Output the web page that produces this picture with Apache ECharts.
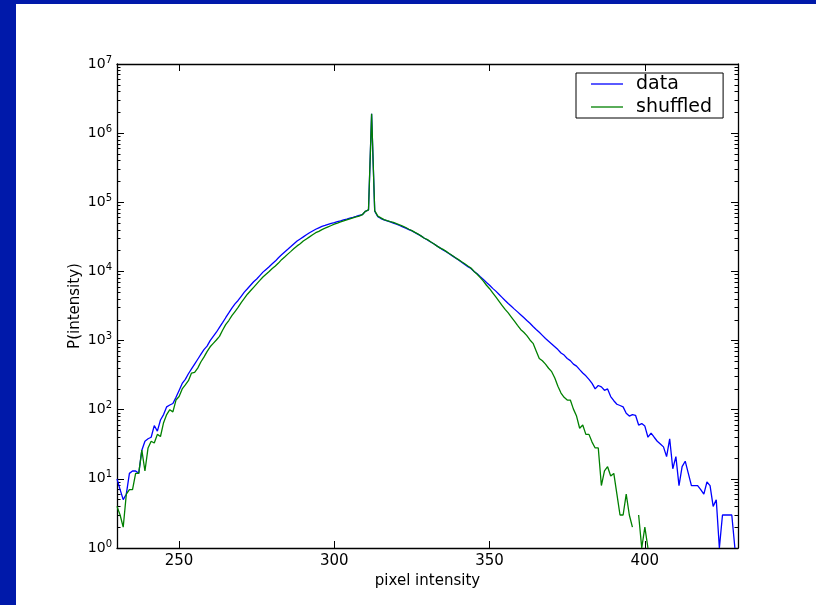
<!DOCTYPE html>
<html>
<head>
<meta charset="utf-8">
<title>pixel intensity histogram</title>
<script src="https://cdn.jsdelivr.net/npm/echarts@6/dist/echarts.min.js"></script>
<style>
  html, body { margin: 0; padding: 0; background: #fff; }
  #chart { width: 816px; height: 605px; }
</style>
</head>
<body>
<div id="chart"></div>
<script>
// histogram bins: one count per integer intensity, starting at firstBin
const firstBin = 230;

// "data" (blue), bins 230..429
const dataCounts = [
  10, 7, 5, 6, 12, 13, 13, 12, 26, 35,
  38, 40, 59, 49, 71, 85, 110, 117, 123, 151,
  190, 240, 275, 331, 389, 457, 537, 631, 741, 832,
  1000, 1150, 1320, 1550, 1820, 2140, 2510, 2950, 3390, 3800,
  4370, 5010, 5620, 6310, 7080, 7760, 8710, 9770, 10700, 11700,
  12900, 14100, 15800, 17400, 19100, 20900, 22900, 25100, 27500, 29500,
  31600, 33900, 36300, 38500, 40700, 42700, 44700, 46200, 47900, 49500,
  50700, 52500, 53700, 55600, 56900, 58900, 60300, 62400, 64600, 66100,
  74100, 77600, 1900000, 74100, 61700, 58200, 55600, 53700, 51900, 50100,
  48400, 46200, 44200, 42200, 40300, 38500, 36300, 34300, 32400, 30200,
  28500, 26600, 25100, 23400, 21900, 20400, 19300, 18000, 16800, 15700,
  14600, 13600, 12600, 11700, 11000, 10000, 9230, 8410, 7670, 6920,
  6310, 5690, 5190, 4680, 4220, 3800, 3430, 3130, 2850, 2600,
  2370, 2160, 1950, 1780, 1600, 1450, 1320, 1190, 1070, 977,
  891, 813, 741, 661, 617, 550, 513, 457, 427, 380,
  339, 309, 275, 240, 200, 224, 214, 191, 200, 155,
  135, 120, 115, 110, 89, 81, 85, 83, 60, 63,
  58, 40, 46, 40, 35, 32, 29, 21, 38, 14,
  21, 8, 15, 18, 12, 8, 8, 8, 7, 6,
  9, 8, 4, 5, 1, 3, 3, 3, 3, 1
];

// "shuffled" (green), bins 230..401; null = empty bin (not drawn on log axis)
const shuffledCounts = [
  4, 3, 2, 6, 7, 7, 12, 12, 26, 13,
  28, 35, 33, 44, 41, 65, 85, 100, 93, 138,
  155, 200, 229, 263, 339, 347, 400, 490, 575, 692,
  813, 912, 1020, 1150, 1410, 1700, 1950, 2290, 2630, 3020,
  3550, 4070, 4680, 5250, 5890, 6610, 7410, 8320, 9120, 10000,
  11000, 12000, 13200, 14800, 16200, 17800, 19500, 21400, 23400, 25100,
  27500, 29500, 31600, 33900, 36300, 38000, 40300, 42200, 44200, 46200,
  48400, 50100, 51900, 53700, 55600, 57500, 59600, 61700, 63100, 66100,
  74100, 77600, 1900000, 75900, 63100, 59600, 56200, 54300, 52500, 51300,
  49000, 47300, 45200, 43200, 40700, 38900, 36700, 34700, 32400, 30200,
  28800, 26900, 25100, 23400, 21900, 20900, 19500, 18200, 17000, 15800,
  14800, 13800, 12900, 12000, 11200, 10000, 9120, 8130, 7240, 6310,
  5620, 4900, 4270, 3720, 3240, 2820, 2510, 2190, 1910, 1660,
  1450, 1320, 1180, 1020, 912, 708, 550, 510, 457, 398,
  355, 288, 219, 174, 151, 138, 138, 102, 81, 54,
  60, 44, 44, 34, 28, 28, 8, 13, 15, 11,
  12, 6, 3, 3, 6, 3, 2, null, 3, 1,
  2, 1
];

const xTicks = [250, 300, 350, 400];
const yDecades = [1, 10, 100, 1000, 10000, 100000, 1000000, 10000000];
const minorSteps = [2, 3, 4, 5, 6, 7, 8, 9];
const yMinor = yDecades.slice(0, -1).flatMap(d => minorSteps.map(s => s * d));

const font = 'DejaVu Sans';
const frameBlue = '#0019aa';

function toPairs(counts) {
  return counts.map((v, i) => [firstBin + i, v]);
}

function xAxisOf(pos, withLabels) {
  return {
    type: 'value', min: 230, max: 430, position: pos,
    name: withLabels ? 'pixel intensity' : '',
    nameLocation: 'middle', nameGap: 21,
    nameTextStyle: { fontSize: 15, color: '#000', fontFamily: font },
    axisLine: { show: true, onZero: false, lineStyle: { color: '#000', width: 1.3 } },
    axisTick: { show: true, inside: true, length: 7, customValues: xTicks, lineStyle: { color: '#000', width: 1 } },
    axisLabel: { show: withLabels, customValues: xTicks, fontSize: 15, color: '#000', fontFamily: font, margin: 6 },
    splitLine: { show: false }
  };
}

function yAxisOf(pos, minor, withLabels) {
  return {
    type: 'log', logBase: 10, min: 1, max: 10000000, position: pos,
    name: withLabels ? 'P(intensity)' : '',
    nameLocation: 'middle', nameGap: 34, nameMoveOverlap: false,
    nameTextStyle: { fontSize: 15, color: '#000', fontFamily: font },
    axisLine: { show: !minor, onZero: false, lineStyle: { color: '#000', width: 1.3 } },
    axisTick: {
      show: true, inside: true, length: minor ? 3.5 : 7,
      customValues: minor ? yMinor : yDecades,
      lineStyle: { color: '#000', width: 1 }
    },
    axisLabel: {
      show: withLabels, customValues: yDecades, margin: 5,
      formatter: v => '{b|10}{e|' + Math.round(Math.log10(v)) + '}',
      rich: {
        b: { fontSize: 14, color: '#000', fontFamily: font, lineHeight: 18 },
        e: { fontSize: 10, color: '#000', fontFamily: font, lineHeight: 10, verticalAlign: 'top' }
      }
    },
    splitLine: { show: false }
  };
}

const chart = echarts.init(document.getElementById('chart'));

const option = {
  animation: false,
  backgroundColor: '#fff',
  textStyle: { fontFamily: font },
  graphic: [
    { type: 'rect', silent: true, shape: { x: 0, y: 0, width: 816, height: 4 }, style: { fill: frameBlue } },
    { type: 'rect', silent: true, shape: { x: 0, y: 0, width: 16, height: 605 }, style: { fill: frameBlue } }
  ],
  grid: { left: 117, top: 64, width: 621, height: 484 },
  legend: {
    data: ['data', 'shuffled'],
    orient: 'vertical', left: 576, top: 73,
    icon: 'rect', itemWidth: 32, itemHeight: 1.3, itemGap: 3,
    padding: [1, 11, 1, 15],
    borderColor: '#000', borderWidth: 1, backgroundColor: '#fff',
    textStyle: { fontSize: 19, color: '#000', fontFamily: font, lineHeight: 20, padding: [0, 0, 0, 8] }
  },
  xAxis: [xAxisOf('bottom', true), xAxisOf('top', false)],
  yAxis: [
    yAxisOf('left', false, true),
    yAxisOf('left', true, false),
    yAxisOf('right', false, false),
    yAxisOf('right', true, false)
  ],
  series: [
    {
      name: 'data', type: 'line', xAxisIndex: 0, yAxisIndex: 0,
      data: toPairs(dataCounts),
      symbol: 'none', showSymbol: false, connectNulls: false, silent: true,
      lineStyle: { color: '#0000ff', width: 1.3 }, itemStyle: { color: '#0000ff' }
    },
    {
      name: 'shuffled', type: 'line', xAxisIndex: 0, yAxisIndex: 0,
      data: toPairs(shuffledCounts),
      symbol: 'none', showSymbol: false, connectNulls: false, silent: true,
      lineStyle: { color: '#008000', width: 1.3 }, itemStyle: { color: '#008000' }
    }
  ]
};

chart.setOption(option);
</script>
</body>
</html>
